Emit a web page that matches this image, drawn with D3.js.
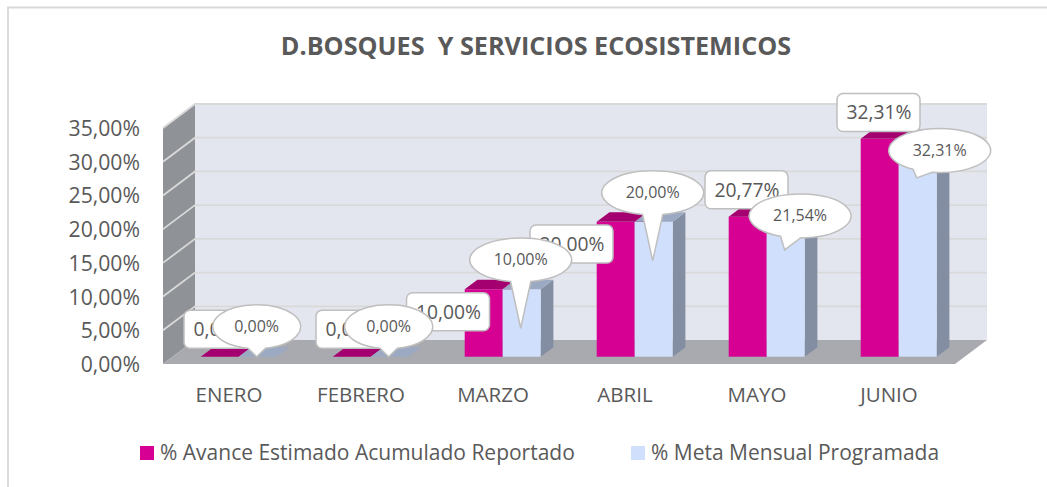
<!DOCTYPE html>
<html>
<head>
<meta charset="utf-8">
<script src="https://cdn.jsdelivr.net/npm/d3@7"></script>
<style>
  body { margin: 0; background: #fff; }
  text { font-family: "Open Sans", sans-serif; fill: #595959; }
</style>
</head>
<body>
<div id="chart"></div>
<script>
const months = ['ENERO', 'FEBRERO', 'MARZO', 'ABRIL', 'MAYO', 'JUNIO'];
const avance = [0, 0, 10, 20, 20.77, 32.31];
const meta = [0, 0, 10, 20, 21.54, 32.31];
const yTicks = [0, 5, 10, 15, 20, 25, 30, 35];
const seriesNames = ['% Avance Estimado Acumulado Reportado', '% Meta Mensual Programada'];

const width = 1047;
const height = 487;
const fmt = (v) => v.toFixed(2).replace('.', ',') + '%';

const x = d3.scaleBand().domain(months).range([163, 955]);
const y = d3.scaleLinear().domain([0, 35]).range([364, 128]);

// 3d offsets
const wall = { dx: 32, dy: -24 };
const barBase = { dx: 9.7, dy: -7.3 };
const barDepth = { dx: 12.7, dy: -9.5 };
const barW = 38;

const svg = d3.select('#chart').append('svg')
  .attr('width', width)
  .attr('height', height);

// ========= Frame ========= //
svg.append('path')
  .attr('d', 'M8,487V7.5H1047')
  .attr('fill', 'none')
  .attr('stroke', '#d9d9d9')
  .attr('stroke-width', 1.8);

// ========= Title ========= //
svg.append('text')
  .attr('x', 536)
  .attr('y', 55)
  .attr('text-anchor', 'middle')
  .attr('font-size', 25.2)
  .attr('font-weight', 700)
  .style('white-space', 'pre')
  .text('D.BOSQUES  Y SERVICIOS ECOSISTEMICOS');

// ========= Walls and floor ========= //
const poly = (pts) => 'M' + pts.map((p) => p.join(',')).join('L') + 'Z';
const [x0, x1] = x.range();
const y0 = y(0);
const yTop = y(35);

svg.append('path')
  .attr('d', poly([[x0 + wall.dx, yTop + wall.dy], [x1 + wall.dx, yTop + wall.dy], [x1 + wall.dx, y0 + wall.dy], [x0 + wall.dx, y0 + wall.dy]]))
  .attr('fill', '#e3e6ee');
svg.append('path')
  .attr('d', poly([[x0, yTop], [x0 + wall.dx, yTop + wall.dy], [x0 + wall.dx, y0 + wall.dy], [x0, y0]]))
  .attr('fill', '#8f9296');
svg.append('path')
  .attr('d', poly([[x0, y0], [x0 + wall.dx, y0 + wall.dy], [x1 + wall.dx, y0 + wall.dy], [x1, y0]]))
  .attr('fill', '#a9aaaf');

// gridlines run along the side wall then the back wall
svg.append('g')
  .selectAll('path')
  .data(yTicks.slice(1))
  .join('path')
  .attr('d', (d) => `M${x0},${y(d)}L${x0 + wall.dx},${y(d) + wall.dy}H${x1 + wall.dx}`)
  .attr('fill', 'none')
  .attr('stroke', '#d9d9d9')
  .attr('stroke-width', 1.8);

// ========= Axes ========= //
svg.append('g')
  .selectAll('text')
  .data(yTicks)
  .join('text')
  .attr('x', 140)
  .attr('y', (d) => y(d) + 8)
  .attr('text-anchor', 'end')
  .attr('font-size', 21.2)
  .text(fmt);

svg.append('g')
  .selectAll('text')
  .data(months)
  .join('text')
  .attr('x', (d) => x(d) + x.bandwidth() / 2)
  .attr('y', 402)
  .attr('text-anchor', 'middle')
  .attr('font-size', 20.5)
  .text((d) => d);

// ========= Bars ========= //
function drawBar(g, month, value, offset, front, top, side) {
  const left = x(month) + x.bandwidth() / 2 + barBase.dx + offset;
  const right = left + barW;
  const bottom = y(0) + barBase.dy;
  const yv = y(value) + barBase.dy;
  if (value > 0) {
    g.append('path')
      .attr('d', poly([[right, bottom], [right + barDepth.dx, bottom + barDepth.dy], [right + barDepth.dx, yv + barDepth.dy], [right, yv]]))
      .attr('fill', side);
    g.append('rect')
      .attr('x', left)
      .attr('y', yv)
      .attr('width', barW)
      .attr('height', bottom - yv)
      .attr('fill', front);
  }
  g.append('path')
    .attr('d', poly([[left, yv], [left + barDepth.dx, yv + barDepth.dy], [right + barDepth.dx, yv + barDepth.dy], [right, yv]]))
    .attr('fill', top);
}

const bars = svg.append('g');
months.forEach((m, i) => {
  drawBar(bars, m, avance[i], -barW, '#d60093', '#a50070', '#a50070');
  drawBar(bars, m, meta[i], 0, '#d0dffb', '#9ca9c2', '#838ea3');
});

// ========= Data labels ========= //
// hand placed in the original: shift of each box from the top left of its bar
const boxShift = [[24.8, -27.4], [24.8, -27.4], [-16.7, 22.4], [-25.2, 22.2], [17.8, -26.8], [17.8, -26.4]];
// callout tip below the bar top, then callout centre from the tip
const tipDrop = [0, 0, 39, 39, 38.5, 39];
const calloutShift = [[0, -30], [0, -30], [0, -68.3], [0, -68], [15.4, -34], [23, -27.3]];
const calloutRx = [44, 44, 51, 51, 51, 51];

const labels = svg.append('g');

months.forEach((m, i) => {
  const cx = x(m) + x.bandwidth() / 2 + barBase.dx - barW + boxShift[i][0];
  const cy = y(avance[i]) + barBase.dy + boxShift[i][1];
  labels.append('rect')
    .attr('x', cx - 41.5)
    .attr('y', cy - 19)
    .attr('width', 83)
    .attr('height', 38)
    .attr('rx', 6)
    .attr('fill', '#fff')
    .attr('stroke', '#bfbfbf')
    .attr('stroke-width', 1.5);
  labels.append('text')
    .attr('x', cx - 32)
    .attr('y', cy + 7)
    .attr('font-size', 19.3)
    .text(fmt(avance[i]));
});

months.forEach((m, i) => {
  const tipX = x(m) + x.bandwidth() / 2 + barBase.dx + barW / 2 - 1;
  const tipY = y(meta[i]) + barBase.dy + tipDrop[i];
  const g = labels.append('g');
  const cx = tipX + calloutShift[i][0];
  const cy = tipY + calloutShift[i][1];
  const rx = calloutRx[i];
  const ry = 22;
  // tail base on the ellipse, opening around the direction of the tip
  const a = Math.atan2((tipY - cy) / ry, (tipX - cx) / rx);
  const spread = 0.2;
  const p1 = [cx + rx * Math.cos(a - spread), cy + ry * Math.sin(a - spread)];
  const p2 = [cx + rx * Math.cos(a + spread), cy + ry * Math.sin(a + spread)];
  g.append('path')
    .attr('d', `M${p2[0]},${p2[1]}A${rx},${ry} 0 1 1 ${p1[0]},${p1[1]}L${tipX},${tipY}Z`)
    .attr('fill', '#fff')
    .attr('stroke', '#bfbfbf')
    .attr('stroke-width', 1.5);
  g.append('text')
    .attr('x', cx)
    .attr('y', cy + 5.5)
    .attr('text-anchor', 'middle')
    .attr('font-size', 16)
    .text(fmt(meta[i]));
});

// ========= Legend ========= //
const legendX = [140, 631];
const legendColors = ['#d60093', '#d0dffb'];
const legend = svg.append('g')
  .selectAll('g')
  .data(seriesNames)
  .join('g')
  .attr('transform', (d, i) => `translate(${legendX[i]},446)`);
legend.append('rect')
  .attr('width', 14)
  .attr('height', 14)
  .attr('fill', (d, i) => legendColors[i]);
legend.append('text')
  .attr('x', 20)
  .attr('y', 14)
  .attr('font-size', 21)
  .text((d) => d);
</script>
</body>
</html>
